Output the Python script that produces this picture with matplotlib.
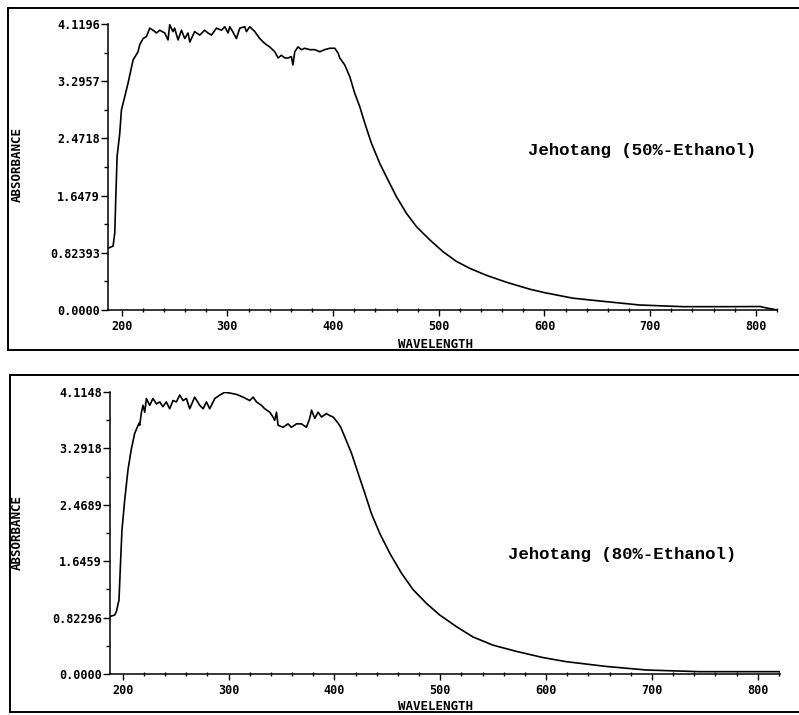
import matplotlib
matplotlib.use("Agg")
import matplotlib.pyplot as plt
from matplotlib.lines import Line2D
from matplotlib.ticker import FixedLocator, MultipleLocator

# ---------------- data ----------------
wl_50 = [187.0, 191.8, 193.4, 194.3, 195.6, 198.1, 199.7, 202.8, 206.0, 210.7, 215.4,
         217.0, 220.2, 223.4, 226.5, 229.6, 232.8, 236.0, 240.7, 243.8, 245.4, 248.5,
         250.0, 253.3, 256.5, 259.6, 262.7, 264.4, 269.0, 273.8, 278.5, 281.6, 284.9,
         289.6, 294.4, 297.5, 300.6, 302.2, 305.0, 308.5, 311.7, 316.4, 318.0, 321.1,
         325.9, 330.6, 333.8, 337.0, 340.0, 344.8, 348.0, 351.0, 354.3, 357.4, 360.5,
         362.0, 363.7, 366.8, 370.0, 373.2, 377.9, 382.6, 387.4, 392.0, 396.8, 401.6,
         404.7, 406.3, 411.0, 415.8, 420.5, 425.2, 430.0, 436.3, 444.2, 452.0, 460.0,
         469.5, 478.9, 491.5, 504.0, 516.7, 529.3, 545.0, 564.0, 586.0, 600.0, 627.0,
         658.6, 690.0, 731.0, 778.0, 804.0, 810.0, 820.0]
abs_50 = [0.89, 0.92, 1.11, 1.58, 2.21, 2.54, 2.88, 3.07, 3.27, 3.60, 3.72,
          3.82, 3.91, 3.94, 4.06, 4.03, 3.99, 4.03, 3.99, 3.89, 4.11, 4.01,
          4.06, 3.89, 4.03, 3.91, 3.99, 3.86, 4.01, 3.96, 4.03, 3.99, 3.96,
          4.06, 4.03, 4.08, 3.99, 4.08, 4.01, 3.91, 4.06, 4.08, 4.01, 4.08,
          4.01, 3.91, 3.86, 3.82, 3.79, 3.72, 3.63, 3.67, 3.63, 3.63, 3.65,
          3.53, 3.72, 3.79, 3.75, 3.77, 3.75, 3.75, 3.72, 3.75, 3.77, 3.77,
          3.70, 3.63, 3.53, 3.36, 3.12, 2.93, 2.69, 2.40, 2.11, 1.87, 1.63,
          1.39, 1.20, 1.01, 0.84, 0.70, 0.60, 0.50, 0.40, 0.30, 0.25, 0.17,
          0.12, 0.072, 0.048, 0.048, 0.05, 0.03, 0.0]

wl_80 = [188.0, 192.4, 194.0, 196.5, 197.8, 199.3, 201.9, 205.0, 208.0, 211.3, 215.4,
         216.1, 217.7, 219.2, 220.8, 222.4, 225.5, 228.6, 231.9, 235.0, 238.0, 241.2,
         244.4, 247.5, 250.7, 253.9, 257.0, 260.2, 263.3, 268.0, 272.8, 276.0, 279.1,
         282.2, 287.0, 291.7, 296.4, 301.1, 307.5, 313.7, 320.0, 323.2, 326.4, 331.1,
         334.2, 339.0, 342.0, 343.6, 345.3, 346.8, 351.5, 356.2, 359.4, 364.2, 368.9,
         373.6, 376.7, 378.4, 381.5, 384.6, 387.8, 392.5, 395.7, 398.8, 403.5, 406.0,
         409.8, 416.2, 422.4, 428.7, 435.0, 442.9, 452.4, 463.4, 474.4, 487.0, 499.6,
         515.4, 531.0, 550.0, 572.0, 597.0, 619.0, 657.0, 695.0, 745.0, 776.0, 821.0]
abs_80 = [0.84, 0.86, 0.91, 1.08, 1.57, 2.10, 2.54, 2.98, 3.27, 3.51, 3.66,
          3.63, 3.82, 3.92, 3.82, 4.02, 3.92, 4.02, 3.94, 3.97, 3.90, 3.97,
          3.87, 3.99, 3.97, 4.07, 3.99, 4.02, 3.87, 4.04, 3.92, 3.87, 3.97,
          3.87, 4.02, 4.07, 4.11, 4.10, 4.08, 4.04, 3.99, 4.04, 3.97, 3.92,
          3.87, 3.82, 3.75, 3.70, 3.82, 3.63, 3.60, 3.65, 3.60, 3.65, 3.65,
          3.60, 3.73, 3.85, 3.73, 3.82, 3.75, 3.80, 3.77, 3.75, 3.66, 3.60,
          3.46, 3.22, 2.93, 2.64, 2.34, 2.05, 1.76, 1.47, 1.23, 1.03, 0.86,
          0.69, 0.54, 0.42, 0.33, 0.24, 0.18, 0.11, 0.058, 0.034, 0.034, 0.034]

ytick_labels_50 = ["0.0000", "0.82393", "1.6479", "2.4718", "3.2957", "4.1196"]
ytick_labels_80 = ["0.0000", "0.82296", "1.6459", "2.4689", "3.2918", "4.1148"]
ymax_50 = 4.1196
ymax_80 = 4.1148
xticks = [200, 300, 400, 500, 600, 700, 800]
title_50 = "Jehotang (50%-Ethanol)"
title_80 = "Jehotang (80%-Ethanol)"

# ---------------- figure ----------------
W, H = 799, 715
fig = plt.figure(figsize=(W / 100, H / 100), dpi=100)
fig.patch.set_facecolor("white")

MONO = ["DejaVu Sans Mono"]
TITLE_FONT = ["Liberation Mono", "DejaVu Sans Mono"]


def fx(px):
    return px / W


def fy(py):
    return 1 - py / H


def frame(x0, y0, y1):
    x1 = W + 5
    for xs, ys in [((x0, x1), (y0, y0)), ((x0, x1), (y1, y1)), ((x0, x0), (y0, y1))]:
        fig.add_artist(Line2D([fx(v) for v in xs], [fy(v) for v in ys],
                              color="black", lw=1.4, transform=fig.transFigure))


def panel(rect_px, xlim, wl, ab, ymax, ylabels, title, title_pos, ylab_y, xlab_y):
    l, t, r, b = rect_px
    ax = fig.add_axes([fx(l), fy(b), (r - l) / W, (b - t) / H])
    ax.plot(wl, ab, color="black", lw=1.2)
    ax.set_xlim(*xlim)
    ax.set_ylim(0, ymax)
    for s in ("top", "right"):
        ax.spines[s].set_visible(False)
    for s in ("left", "bottom"):
        ax.spines[s].set_linewidth(1.1)
    ax.set_xticks(xticks)
    ax.set_xticklabels([str(v) for v in xticks], family=MONO, fontsize=8.5, fontweight="bold")
    ax.xaxis.set_minor_locator(MultipleLocator(20))
    yt = [ymax * i / 5 for i in range(6)]
    ax.set_yticks(yt)
    ax.set_yticklabels(ylabels, family=MONO, fontsize=8.5, fontweight="bold")
    ax.yaxis.set_minor_locator(FixedLocator([ymax * (i + 0.5) / 5 for i in range(5)]))
    ax.tick_params(axis="x", which="major", direction="out", length=4, width=1, pad=3)
    ax.tick_params(axis="x", which="minor", direction="inout", length=3, width=1)
    ax.tick_params(axis="y", which="major", direction="out", length=5, width=1, pad=1)
    ax.tick_params(axis="y", which="minor", direction="out", length=3, width=1)
    fig.text(fx(title_pos[0]), fy(title_pos[1]), title, family=TITLE_FONT,
             fontsize=12.5, fontweight="bold", ha="left", va="center")
    fig.text(fx(17), fy(ylab_y), "ABSORBANCE", family=MONO, fontsize=9,
             fontweight="bold", rotation=90, ha="center", va="center")
    fig.text(fx(398), fy(xlab_y), "WAVELENGTH", family=MONO, fontsize=9,
             fontweight="bold", ha="left", va="center")
    return ax


frame(8, 8, 350)
frame(10, 375, 712)

panel((108, 24, 777, 310), (187, 820), wl_50, abs_50, ymax_50, ytick_labels_50,
      title_50, (528, 150), 165, 344)
panel((110, 392, 780, 674), (188, 821), wl_80, abs_80, ymax_80, ytick_labels_80,
      title_80, (508, 555), 533, 707)

fig.savefig("out.png", dpi=100, facecolor="white")
